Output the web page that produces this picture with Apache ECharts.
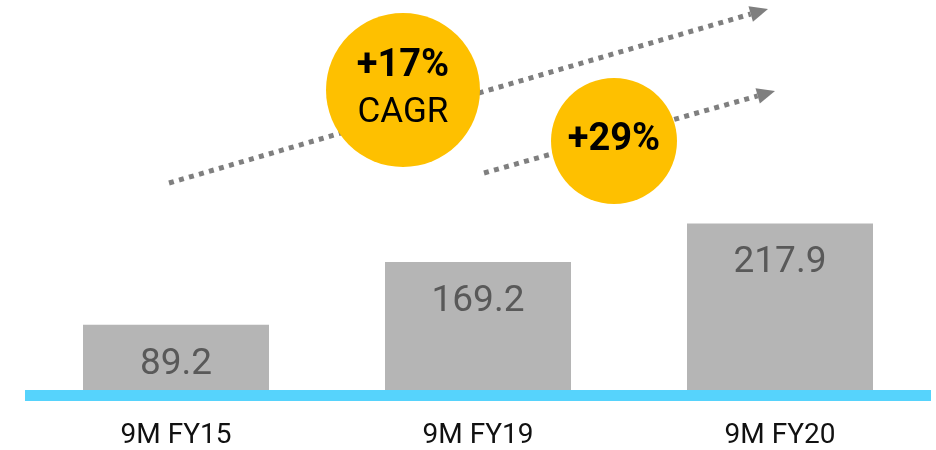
<!DOCTYPE html>
<html>
<head>
<meta charset="utf-8">
<style>
  html, body { margin: 0; padding: 0; background: #ffffff; }
  #chart { width: 936px; height: 450px; }
</style>
<script src="https://cdn.jsdelivr.net/npm/echarts@6/dist/echarts.min.js"></script>
</head>
<body>
<div id="chart"></div>
<script>
// Revenue by period
const categories = ['9M FY15', '9M FY19', '9M FY20'];
const values = [89.2, 169.2, 217.9];

// Growth callouts
const cagrLabel = ['+17%', 'CAGR'];
const yoyLabel = ['+29%'];

const FONT = 'Roboto, "Noto Sans", sans-serif';
const GRAY_DOT = '#7f7f7f';
const YELLOW = '#fec000';

const chart = echarts.init(document.getElementById('chart'));

// dotted trend arrow: shaft + triangular head
function arrow(x1, y1, x2, y2) {
  const ang = Math.atan2(y2 - y1, x2 - x1);
  const len = 18, half = 8;
  const bx = x2 - len * Math.cos(ang), by = y2 - len * Math.sin(ang);
  const px = -Math.sin(ang) * half, py = Math.cos(ang) * half;
  return [
    {
      type: 'line', z: 10,
      shape: { x1: x1, y1: y1, x2: bx, y2: by },
      style: { stroke: GRAY_DOT, lineWidth: 5, lineDash: [5, 5.4], lineCap: 'butt' }
    },
    {
      type: 'polygon', z: 10,
      shape: { points: [[x2, y2], [bx + px, by + py], [bx - px, by - py]] },
      style: { fill: GRAY_DOT }
    }
  ];
}

function bubble(cx, cy, r, lines) {
  const els = [{
    type: 'circle', z: 20,
    shape: { cx: cx, cy: cy, r: r },
    style: { fill: YELLOW }
  }];
  lines.forEach(function (l) {
    els.push({
      type: 'text', z: 21,
      x: cx, y: l.y,
      style: {
        text: l.text, fill: '#000', align: 'center', verticalAlign: 'middle',
        font: (l.bold ? 'bold ' : '') + l.size + 'px ' + FONT
      }
    });
  });
  return els;
}

const graphics = []
  .concat(arrow(169, 183, 768, 9))
  .concat(arrow(484, 173, 775, 91))
  .concat(bubble(403, 90, 77, [
    { text: cagrLabel[0], y: 66, size: 38, bold: true },
    { text: cagrLabel[1], y: 113, size: 35, bold: false }
  ]))
  .concat(bubble(614, 141, 63, [
    { text: yoyLabel[0], y: 140, size: 38, bold: true }
  ]));

chart.setOption({
  animation: false,
  grid: { left: 25, right: 5, top: 159, bottom: 55 },
  xAxis: {
    type: 'category',
    data: categories,
    z: 5,
    axisLine: { show: true, lineStyle: { color: '#56d3fc', width: 11, cap: 'butt' } },
    axisTick: { show: false },
    axisLabel: { color: '#111', fontFamily: FONT, fontSize: 28, margin: 27 }
  },
  yAxis: {
    type: 'value', min: 0, max: 300, show: false,
    splitLine: { show: false }
  },
  series: [{
    type: 'bar',
    data: values,
    barWidth: 186,
    itemStyle: { color: '#b5b5b5' },
    label: {
      show: true, position: 'insideTop', distance: 21,
      color: '#595959', fontFamily: FONT, fontSize: 37
    }
  }],
  graphic: graphics
});
</script>
</body>
</html>
